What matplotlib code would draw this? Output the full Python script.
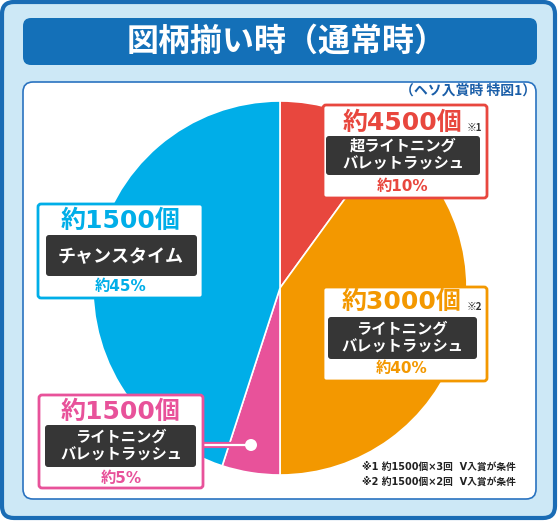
import matplotlib
matplotlib.use('Agg')
import matplotlib.pyplot as plt
from matplotlib.patches import FancyBboxPatch, Circle

plt.rcParams['font.family'] = ['Noto Sans CJK JP', 'DejaVu Sans']
# wide latin digits first, CJK glyphs fall through to Noto
WIDE = ['DejaVu Sans', 'Noto Sans CJK JP']

# chart data
shares = [10, 40, 5, 45]
slice_colors = ['#e8473e', '#f39800', '#e8529a', '#00aee8']
counts = ['約4500個', '約3000個', '約1500個', '約1500個']
notes = ['※1', '※2', '', '']
names = ['超ライトニング\nバレットラッシュ', 'ライトニング\nバレットラッシュ',
         'ライトニング\nバレットラッシュ', 'チャンスタイム']
title = '図柄揃い時（通常時）'
subtitle = '（ヘソ入賞時 特図1）'
footnotes = ['※1 約1500個×3回  V入賞が条件', '※2 約1500個×2回  V入賞が条件']

W, H = 560, 523
fig = plt.figure(figsize=(W / 100, H / 100), dpi=100)
ax = fig.add_axes([0, 0, 1, 1])


def Y(p):
    # pixel row (top down) -> data y
    return H - p


def rbox(x0, y0, x1, y1, fc, ec, lw, r, z=1):
    p = FancyBboxPatch((x0, Y(y1)), x1 - x0, y1 - y0,
                       boxstyle='round,pad=0,rounding_size=%g' % r,
                       fc=fc, ec=ec, lw=lw, zorder=z)
    ax.add_patch(p)


# background frames
rbox(2, 2, 555, 518, '#cde8f6', '#1a6cb5', 3, 12, 0)
rbox(23, 18, 537, 65, '#1470b8', 'none', 0, 8, 1)
rbox(23, 82, 536, 499, 'white', '#2a73c0', 1.2, 10, 1)

ax.text(287, Y(42), title, color='white', fontsize=23, fontweight='bold',
        ha='center', va='center', zorder=3)
ax.text(536, Y(91), subtitle, color='#1a5ea8', fontsize=10, fontweight='bold',
        ha='right', va='center', zorder=3)

# pie
ax.pie(shares, colors=slice_colors, startangle=90, counterclock=False,
       center=(280, Y(288)), radius=187,
       wedgeprops=dict(edgecolor='white', linewidth=1.2, zorder=2))

# label boxes: (box, count pos, note pos, dark box, name pos, pct pos)
layout = [
    ((323, 105, 487, 198), (402, 123), (467, 128), (326, 136, 480, 175), (403, 155), (403, 187)),
    ((323, 287, 487, 381), (402, 302), (467, 307), (328, 317, 477, 359), (402, 338), (402, 369)),
    ((39, 395, 203, 488), (121, 412), None, (45, 425, 196, 467), (121, 446), (121, 478)),
    ((38, 204, 203, 298), (121, 221), None, (46, 235, 197, 276), (121, 257), (121, 287)),
]

# pink connector
ax.plot([203, 247], [Y(445), Y(445)], color=slice_colors[2], lw=4.5,
        solid_capstyle='butt', zorder=4)
ax.plot([203, 247], [Y(445), Y(445)], color='white', lw=1.6, zorder=5)
ax.add_patch(Circle((251, Y(445)), 6, fc='white', ec='none', zorder=5))

for i, (box, cpos, npos, dbox, tpos, ppos) in enumerate(layout):
    col = slice_colors[i]
    rbox(box[0], box[1], box[2], box[3], 'white', col, 2, 3, 6)
    rbox(dbox[0], dbox[1], dbox[2], dbox[3], '#363636', 'none', 0, 3, 7)
    ax.text(cpos[0], Y(cpos[1]), counts[i], color=col, fontsize=18,
            fontweight='bold', family=WIDE, ha='center', va='center', zorder=8)
    if npos:
        ax.text(npos[0], Y(npos[1]), notes[i], color='#333333', fontsize=7,
                fontweight='bold', ha='left', va='center', zorder=8)
    fs = 11 if '\n' in names[i] else 13
    ax.text(tpos[0], Y(tpos[1]), names[i], color='white', fontsize=fs,
            fontweight='bold', ha='center', va='center', linespacing=1.15,
            zorder=8)
    ax.text(ppos[0], Y(ppos[1]), '約%d%%' % shares[i], color=col, fontsize=11,
            fontweight='bold', family=WIDE, ha='center', va='center', zorder=8)

for k, line in enumerate(footnotes):
    ax.text(362, Y(467 + 15 * k), line, color='#222222', fontsize=7,
            fontweight='bold', family=WIDE, ha='left', va='center', zorder=3)

ax.set_xlim(0, W)
ax.set_ylim(0, H)
ax.set_aspect('equal')
ax.axis('off')

fig.savefig('out.png', dpi=100)
